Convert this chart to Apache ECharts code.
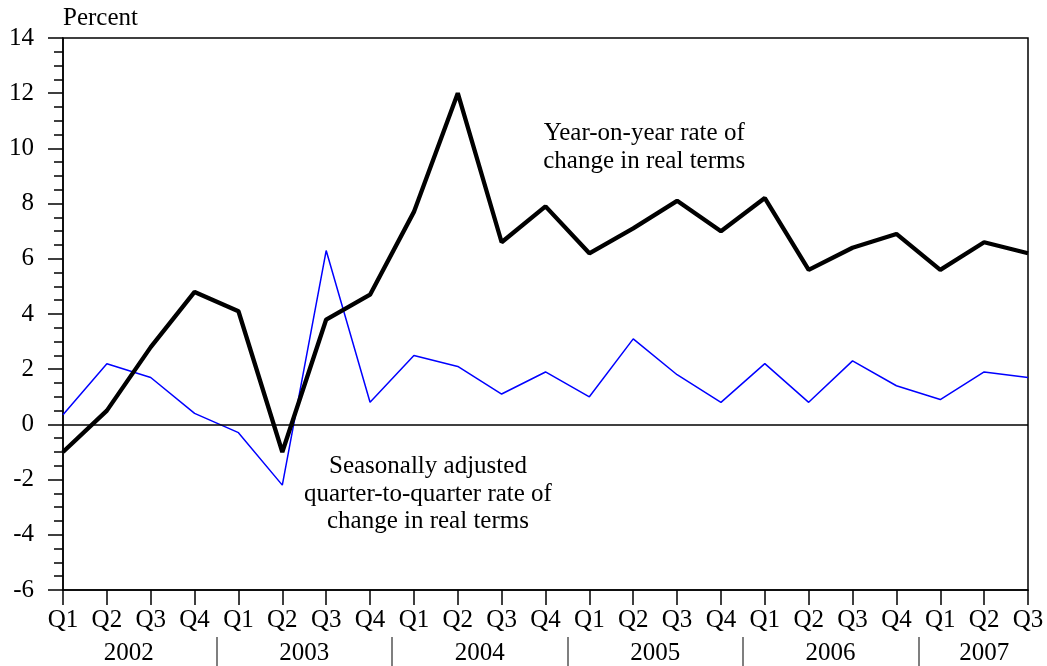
<!DOCTYPE html>
<html>
<head>
<meta charset="utf-8">
<script src="https://cdn.jsdelivr.net/npm/echarts@6/dist/echarts.min.js"></script>
<style>
  html, body { margin: 0; padding: 0; background: #fff; }
  #chart { width: 1047px; height: 666px; }
</style>
</head>
<body>
<div id="chart"></div>
<script>
// quarters and the year each belongs to
var quarters = ['Q1','Q2','Q3','Q4','Q1','Q2','Q3','Q4','Q1','Q2','Q3','Q4',
  'Q1','Q2','Q3','Q4','Q1','Q2','Q3','Q4','Q1','Q2','Q3']
var quarterYears = ['2002','2002','2002','2002','2003','2003','2003','2003',
  '2004','2004','2004','2004','2005','2005','2005','2005',
  '2006','2006','2006','2006','2007','2007','2007']

// year-on-year rate of change in real terms
var yoy = [-1.0, 0.5, 2.8, 4.8, 4.1, -1.0, 3.8, 4.7, 7.7, 12.0, 6.6, 7.9,
  6.2, 7.1, 8.1, 7.0, 8.2, 5.6, 6.4, 6.9, 5.6, 6.6, 6.2]
// seasonally adjusted quarter-to-quarter rate of change
var qoq = [0.35, 2.2, 1.7, 0.4, -0.3, -2.2, 6.3, 0.8, 2.5, 2.1, 1.1, 1.9,
  1.0, 3.1, 1.8, 0.8, 2.2, 0.8, 2.3, 1.4, 0.9, 1.9, 1.7]

var categories = quarters.map(function (q, i) { return q + ' ' + quarterYears[i] })

// year label centres and separators, derived from the categories
var years = []
var yearCenters = []
var yearSeparators = []
quarterYears.forEach(function (y) {
  if (years.indexOf(y) < 0) years.push(y)
})
years.forEach(function (y) {
  var first = quarterYears.indexOf(y)
  var last = quarterYears.lastIndexOf(y)
  yearCenters.push((first + last) / 2)
  if (last < quarterYears.length - 1) yearSeparators.push(last + 0.5)
})

var font = 'Liberation Serif'
var fs = 25
var chart = echarts.init(document.getElementById('chart'))

chart.setOption({
  animation: false,
  textStyle: { fontFamily: font, color: '#000' },
  grid: {
    left: 63, right: 19, top: 38, bottom: 76,
    show: true, borderColor: '#000', borderWidth: 1.5
  },
  xAxis: [
    {
      type: 'category',
      data: categories,
      boundaryGap: false,
      axisLine: { onZero: false, lineStyle: { color: '#000', width: 1.5 } },
      axisTick: { length: 15, lineStyle: { color: '#000', width: 1.5 } },
      axisLabel: {
        interval: 0, margin: 18, fontSize: fs, color: '#000', fontFamily: font,
        formatter: function (v) { return v.split(' ')[0] }
      },
      splitLine: { show: false }
    },
    {
      // continuous twin of the quarter axis: carries the year labels
      type: 'value',
      min: 0,
      max: quarters.length - 1,
      position: 'bottom',
      offset: 47,
      axisLine: { show: false, onZero: false },
      axisTick: {
        show: true, length: 29, customValues: yearSeparators,
        lineStyle: { color: '#555', width: 1.5 }
      },
      axisLabel: {
        margin: 4, fontSize: fs, color: '#000', fontFamily: font,
        customValues: yearCenters,
        formatter: function (v) {
          var i = yearCenters.indexOf(v)
          return i >= 0 ? years[i] : ''
        }
      },
      splitLine: { show: false }
    }
  ],
  yAxis: {
    type: 'value',
    min: -6,
    max: 14,
    interval: 2,
    axisLine: { show: true, onZero: false, lineStyle: { color: '#000', width: 1.5 } },
    axisTick: { show: true, length: 15, lineStyle: { color: '#000', width: 1.5 } },
    minorTick: { show: true, splitNumber: 4, length: 9, lineStyle: { color: '#000', width: 1.5 } },
    axisLabel: { margin: 29, fontSize: fs, color: '#000', fontFamily: font },
    splitLine: { show: false }
  },
  series: [
    {
      name: 'Seasonally adjusted quarter-to-quarter rate of change in real terms',
      type: 'line',
      data: qoq,
      symbol: 'none',
      lineStyle: { color: '#0000ff', width: 1.5 },
      z: 2
    },
    {
      name: 'Year-on-year rate of change in real terms',
      type: 'line',
      data: yoy,
      symbol: 'none',
      lineStyle: { color: '#000', width: 4.3 },
      markLine: {
        silent: true,
        symbol: 'none',
        label: { show: false },
        lineStyle: { color: '#000', width: 1.5, type: 'solid' },
        data: [{ yAxis: 0 }]
      },
      z: 3
    }
  ]
})

// annotations anchored in data coordinates (continuous x axis)
function place (xPos, yValue) {
  return chart.convertToPixel({ xAxisIndex: 1, yAxisIndex: 0 }, [xPos, yValue])
}
var pYoy = place(13.25, 10.05)
var pQoq = place(8.32, -2.52)
var pAxis = place(0, 14)

chart.setOption({
  graphic: [
    {
      type: 'text', x: pYoy[0], y: pYoy[1],
      style: {
        text: 'Year-on-year rate of\nchange in real terms',
        fontFamily: font, fontSize: fs, lineHeight: 28, fill: '#000',
        align: 'center', verticalAlign: 'middle'
      }
    },
    {
      type: 'text', x: pQoq[0], y: pQoq[1],
      style: {
        text: 'Seasonally adjusted\nquarter-to-quarter rate of\nchange in real terms',
        fontFamily: font, fontSize: fs, lineHeight: 27.5, fill: '#000',
        align: 'center', verticalAlign: 'middle'
      }
    },
    {
      type: 'text', x: pAxis[0], y: pAxis[1] - 20,
      style: {
        text: 'Percent', fontFamily: font, fontSize: fs, fill: '#000',
        align: 'left', verticalAlign: 'middle'
      }
    }
  ]
})

window.addEventListener('resize', function () { chart.resize() })
</script>
</body>
</html>
